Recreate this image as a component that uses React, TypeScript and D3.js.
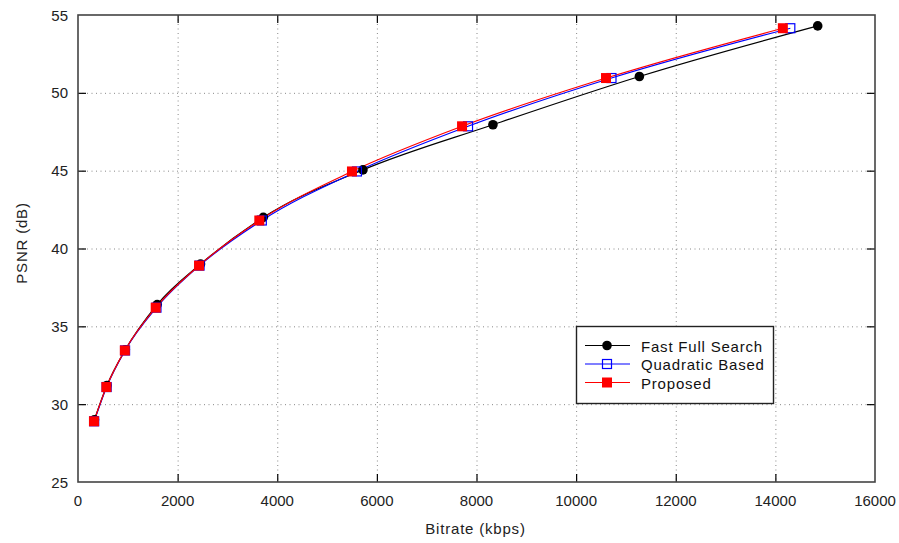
import { useEffect, useRef } from "react";
import * as d3 from "d3";

const xTicks = [0, 2000, 4000, 6000, 8000, 10000, 12000, 14000, 16000];
const yTicks = [25, 30, 35, 40, 45, 50, 55];

const ffsX = [330, 580, 950, 1590, 2460, 3720, 5720, 8330, 11270, 14850];
const ffsY = [29.0, 31.2, 33.5, 36.4, 39.0, 42.0, 45.05, 47.95, 51.05, 54.3];
const quadX = [325, 575, 945, 1575, 2440, 3690, 5600, 7830, 10710, 14300];
const quadY = [28.9, 31.1, 33.45, 36.2, 38.9, 41.8, 44.95, 47.85, 50.95, 54.15];
const propX = [320, 570, 940, 1560, 2430, 3640, 5500, 7710, 10600, 14150];
const propY = [28.9, 31.1, 33.45, 36.2, 38.9, 41.8, 44.95, 47.85, 50.95, 54.15];

const seriesNames = ["Fast Full Search", "Quadratic Based", "Proposed"];

const W = 899, H = 543;
const left = 78, right = 875, top = 15, bottom = 482;

const App = () => {
  const svgRef = useRef(null);

  useEffect(() => {
    const svg = d3.select(svgRef.current);
    svg.selectAll("*").remove();
    const font = "'Liberation Sans', Arial, sans-serif";

    const x = d3.scaleLinear().domain([0, 16000]).range([left, right]);
    const y = d3.scaleLinear().domain([25, 55]).range([bottom, top]);

    // grid
    const grid = svg.append("g").attr("stroke", "#888").attr("stroke-width", 1).attr("stroke-dasharray", "1,3.5");
    xTicks.slice(1, -1).forEach((t) => {
      grid.append("line").attr("x1", x(t) + 0.5).attr("x2", x(t) + 0.5).attr("y1", top).attr("y2", bottom);
    });
    yTicks.slice(1, -1).forEach((t) => {
      grid.append("line").attr("y1", y(t) + 0.5).attr("y2", y(t) + 0.5).attr("x1", left).attr("x2", right);
    });

    // ticks (inside, on all four sides)
    const tk = svg.append("g").attr("stroke", "#000").attr("stroke-width", 1.2);
    xTicks.slice(1, -1).forEach((t) => {
      tk.append("line").attr("x1", x(t) + 0.5).attr("x2", x(t) + 0.5).attr("y1", bottom).attr("y2", bottom - 8);
      tk.append("line").attr("x1", x(t) + 0.5).attr("x2", x(t) + 0.5).attr("y1", top).attr("y2", top + 8);
    });
    yTicks.slice(1, -1).forEach((t) => {
      tk.append("line").attr("y1", y(t) + 0.5).attr("y2", y(t) + 0.5).attr("x1", left).attr("x2", left + 8);
      tk.append("line").attr("y1", y(t) + 0.5).attr("y2", y(t) + 0.5).attr("x1", right).attr("x2", right - 8);
    });

    // frame
    svg.append("rect").attr("x", left).attr("y", top).attr("width", right - left).attr("height", bottom - top)
      .attr("fill", "none").attr("stroke", "#444").attr("stroke-width", 1.6);

    // tick labels
    svg.append("g").selectAll("text").data(xTicks).join("text")
      .attr("x", (d) => x(d)).attr("y", bottom + 24).attr("text-anchor", "middle")
      .attr("font-family", font).attr("font-size", 15).attr("fill", "#222").text((d) => d);
    svg.append("g").selectAll("text").data(yTicks).join("text")
      .attr("x", left - 10).attr("y", (d) => y(d) + 5.5).attr("text-anchor", "end")
      .attr("font-family", font).attr("font-size", 15).attr("fill", "#222").text((d) => d);

    // axis titles
    svg.append("text").attr("x", 475.5).attr("y", 534).attr("text-anchor", "middle")
      .attr("font-family", font).attr("font-size", 15).attr("letter-spacing", 0.8).attr("fill", "#222")
      .text("Bitrate (kbps)");
    svg.append("text").attr("transform", `translate(27,243) rotate(-90)`)
      .attr("text-anchor", "middle").attr("font-family", font).attr("font-size", 15).attr("letter-spacing", 0.8)
      .attr("fill", "#222").text("PSNR (dB)");

    const line = d3.line().curve(d3.curveMonotoneX);
    const series = [
      { xs: ffsX, ys: ffsY, color: "#000", marker: "circle" },
      { xs: quadX, ys: quadY, color: "#0000ff", marker: "open" },
      { xs: propX, ys: propY, color: "#ff0000", marker: "square" },
    ];

    const drawMarker = (g, type, cx, cy, color) => {
      if (type === "circle") {
        g.append("circle").attr("cx", cx).attr("cy", cy).attr("r", 4.8).attr("fill", color);
      } else if (type === "open") {
        g.append("rect").attr("x", cx - 4.5).attr("y", cy - 4.5).attr("width", 9).attr("height", 9)
          .attr("fill", "none").attr("stroke", color).attr("stroke-width", 1.2);
      } else {
        g.append("rect").attr("x", cx - 5).attr("y", cy - 5).attr("width", 10).attr("height", 10).attr("fill", color);
      }
    };

    series.forEach((s) => {
      const pts = s.xs.map((v, i) => [x(v), y(s.ys[i])]);
      svg.append("path").attr("d", line(pts)).attr("fill", "none").attr("stroke", s.color).attr("stroke-width", 1.2);
    });
    series.forEach((s) => {
      const g = svg.append("g");
      s.xs.forEach((v, i) => drawMarker(g, s.marker, x(v), y(s.ys[i]), s.color));
    });

    // legend
    const lg = svg.append("g");
    lg.append("rect").attr("x", 576.5).attr("y", 326.5).attr("width", 197).attr("height", 77)
      .attr("fill", "#fff").attr("stroke", "#222").attr("stroke-width", 1.4);
    series.forEach((s, i) => {
      const ly = 345.5 + i * 18.5;
      lg.append("line").attr("x1", 585).attr("x2", 630).attr("y1", ly).attr("y2", ly)
        .attr("stroke", s.color).attr("stroke-width", 1.2);
      drawMarker(lg, s.marker, 607, ly, s.color);
      lg.append("text").attr("x", 641).attr("y", ly + 6).attr("font-family", font).attr("font-size", 15)
        .attr("letter-spacing", 0.8).attr("fill", "#111").text(seriesNames[i]);
    });
  }, []);

  return (
    <svg ref={svgRef} width={W} height={H} style={{ display: "block", position: "absolute", left: 0, top: 0, background: "#fff" }} />
  );
};

export default App;
